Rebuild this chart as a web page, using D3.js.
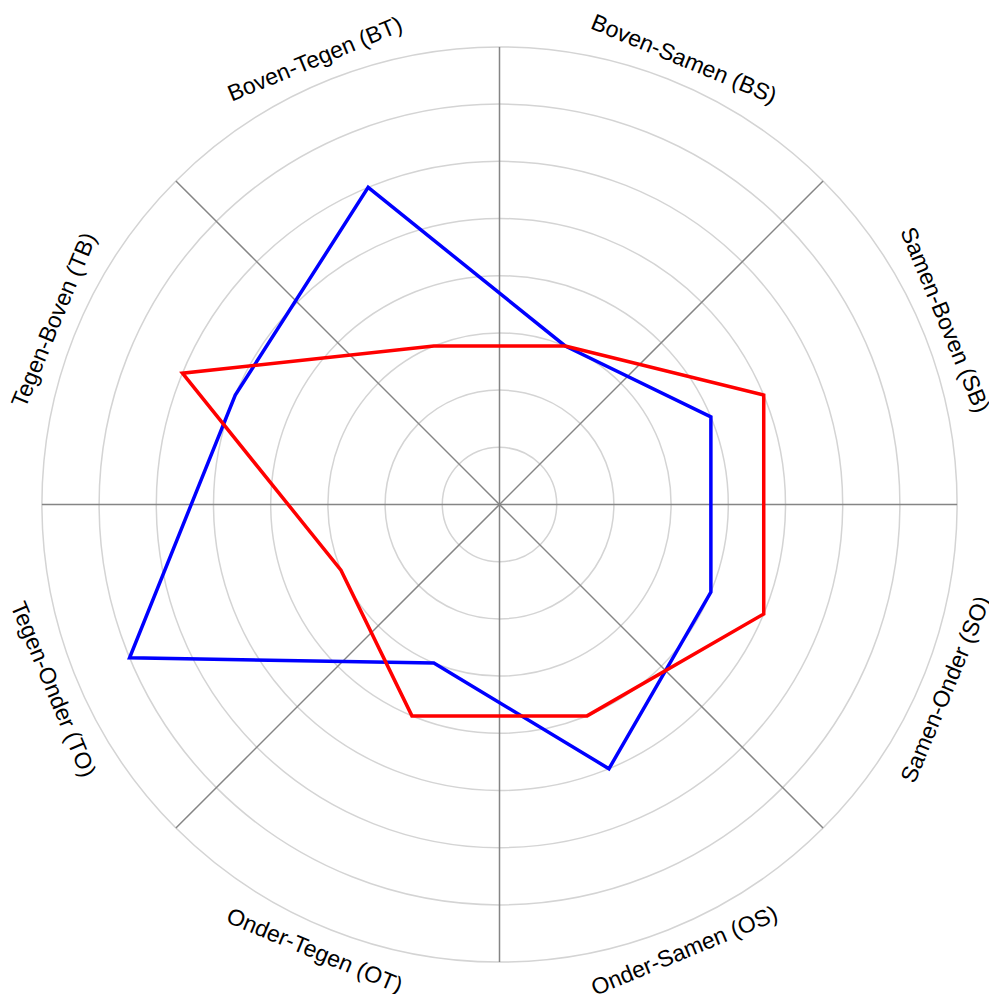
<!DOCTYPE html>
<html>
<head>
<meta charset="utf-8">
<script src="https://cdn.jsdelivr.net/npm/d3@7"></script>
<style>
  body { margin: 0; background: #fff; }
  svg { display: block; }
</style>
</head>
<body>
<svg id="chart" width="989" height="994"></svg>
<script>
const categories = ["Boven-Samen (BS)", "Samen-Boven (SB)", "Samen-Onder (SO)", "Onder-Samen (OS)",
                    "Onder-Tegen (OT)", "Tegen-Onder (TO)", "Tegen-Boven (TB)", "Boven-Tegen (BT)"];
const blueValues = [3, 4, 4, 5, 3, 7, 5, 6];
const redValues  = [3, 5, 5, 4, 4, 3, 6, 3];
const rings = [1, 2, 3, 4, 5, 6, 7, 8];

const svg = d3.select("#chart"),
      cx = 499.5, cy = 504.5,
      outerR = 457.6;

const g = svg.append("g").attr("transform", `translate(${cx},${cy})`);

const rScale = d3.scaleLinear().domain([0, 8]).range([0, outerR]);
// angle measured clockwise from 12 o'clock, one sector per category
const aScale = d3.scaleLinear().domain([0, categories.length]).range([0, 2 * Math.PI]);

// grid circles
g.selectAll("circle.ring")
    .data(rings)
    .join("circle")
    .attr("class", "ring")
    .attr("r", d => rScale(d))
    .attr("fill", "none")
    .attr("stroke", "#d4d4d4")
    .attr("stroke-width", 1.5);

// spokes at sector borders
g.selectAll("line.spoke")
    .data(d3.range(categories.length))
    .join("line")
    .attr("class", "spoke")
    .attr("x1", 0).attr("y1", 0)
    .attr("x2", i => outerR * Math.sin(aScale(i)))
    .attr("y2", i => -outerR * Math.cos(aScale(i)))
    .attr("stroke", "#858585")
    .attr("stroke-width", 1.5);

const line = d3.lineRadial()
    .angle((d, i) => aScale(i + 0.5))
    .radius(d => rScale(d))
    .curve(d3.curveLinearClosed);

[[blueValues, "#0000ff"], [redValues, "#ff0000"]].forEach(([vals, col]) => {
  g.append("path")
      .datum(vals)
      .attr("d", line)
      .attr("fill", "none")
      .attr("stroke", col)
      .attr("stroke-width", 3.5)
      .attr("stroke-linejoin", "miter");
});

// category labels, rotated tangentially
const labelR = outerR + 25;
g.selectAll("text.cat")
    .data(categories)
    .join("text")
    .attr("class", "cat")
    .attr("transform", (d, i) => {
      const a = aScale(i + 0.5);
      const x = labelR * Math.sin(a), y = -labelR * Math.cos(a);
      let deg = a * 180 / Math.PI;
      if (deg > 90 && deg < 270) deg -= 180;
      else if (deg >= 270) deg -= 360;
      return `translate(${x},${y}) rotate(${deg})`;
    })
    .attr("text-anchor", "middle")
    .attr("dominant-baseline", "central")
    .attr("font-family", "Liberation Sans, Arial, sans-serif")
    .attr("font-size", 23)
    .attr("fill", "#000")
    .text(d => d);
</script>
</body>
</html>
